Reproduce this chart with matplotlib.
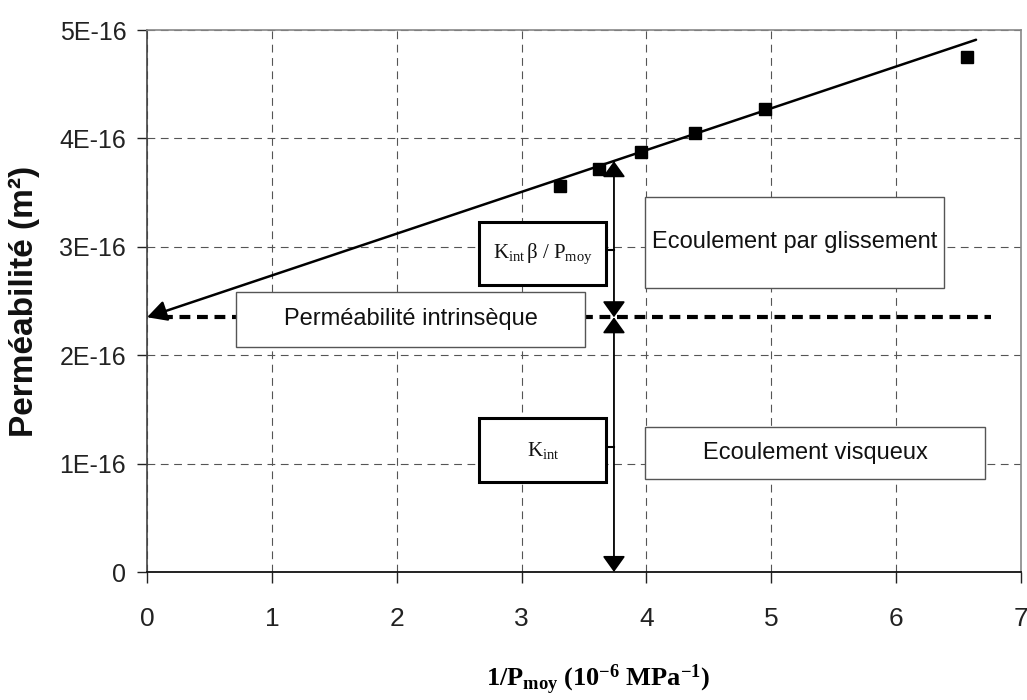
import matplotlib
matplotlib.use("Agg")
import matplotlib.pyplot as plt
from matplotlib.patches import Rectangle
from matplotlib.ticker import FuncFormatter

plt.rcParams['font.family'] = ['Liberation Sans', 'DejaVu Sans']
plt.rcParams['mathtext.fontset'] = 'custom'
plt.rcParams['mathtext.rm'] = 'Liberation Serif'
plt.rcParams['mathtext.it'] = 'Liberation Serif:italic'
plt.rcParams['mathtext.bf'] = 'Liberation Serif:bold'

# ---- data (x in 1e-6 MPa^-1, y in m^2) ----
inv_p = [3.31, 3.62, 3.96, 4.39, 4.95, 6.57]
perm = [3.56e-16, 3.72e-16, 3.87e-16, 4.05e-16, 4.27e-16, 4.75e-16]
fit_x = [0.0, 6.64]
fit_y = [2.35e-16, 4.91e-16]
k_int = 2.35e-16
x_arrow = 3.74
top_arrow = 3.79e-16
x_ticks = [0, 1, 2, 3, 4, 5, 6, 7]
y_ticks = [0, 1e-16, 2e-16, 3e-16, 4e-16, 5e-16]

fig = plt.figure(figsize=(10.27, 7.0), dpi=100)
ax = fig.add_axes([147/1027, 1-572/700, (1021-147)/1027, (572-30)/700])
ax.set_xlim(0, 7)
ax.set_ylim(0, 5e-16)
ax.set_xticks(x_ticks)
ax.set_yticks(y_ticks)
ax.yaxis.set_major_formatter(FuncFormatter(
    lambda v, p: '0' if abs(v) < 1e-20 else '%dE-16' % round(v / 1e-16)))

ax.grid(True, color='#555555', linestyle=(0, (7, 5)), linewidth=0.8)
for s in ['top', 'right']:
    ax.spines[s].set_color('#888888')
    ax.spines[s].set_linewidth(1.2)
ax.spines['left'].set_color('#444444')
ax.spines['left'].set_linewidth(1.2)
ax.spines['bottom'].set_color('#111111')
ax.spines['bottom'].set_linewidth(1.3)
ax.tick_params(axis='y', direction='out', length=7, width=1.0, pad=8,
               labelsize=18, colors='#222222')
ax.tick_params(axis='x', direction='out', length=8, width=1.0, pad=17,
               labelsize=19, colors='#222222')

# fit line with arrow head at x=0
ax.annotate('', xy=(fit_x[0], fit_y[0]), xytext=(fit_x[1], fit_y[1]),
            arrowprops=dict(arrowstyle='-|>,head_length=0.85,head_width=0.45',
                            color='black', lw=1.8, shrinkA=0, shrinkB=0,
                            mutation_scale=14), zorder=4)
# data markers
ax.plot(inv_p, perm, linestyle='none', marker='s', markersize=8.5,
        color='black', zorder=5)

# horizontal dashed intrinsic permeability line
ax.plot([0.12, 6.76], [k_int, k_int], color='black', lw=3,
        linestyle=(0, (2.6, 1.6)), zorder=3)

# vertical double arrows
for y_end in (top_arrow, 0):
    ax.annotate('', xy=(x_arrow, y_end), xytext=(x_arrow, k_int),
                arrowprops=dict(arrowstyle='<|-|>,head_length=0.7,head_width=0.5',
                                color='black', lw=1.3, shrinkA=0, shrinkB=0,
                                mutation_scale=14), zorder=4)

def box(x0, x1, y0, y1, text, lw, ec, fs):
    r = Rectangle((x0, y0), x1 - x0, y1 - y0, facecolor='white', edgecolor=ec,
                  lw=lw, zorder=6)
    ax.add_patch(r)
    ax.text((x0 + x1) / 2, (y0 + y1) / 2, text, ha='center', va='center',
            fontsize=fs, zorder=7, color='#111111')

box(0.71, 3.51, 2.08e-16, 2.58e-16, 'Perméabilité intrinsèque', 1.0, '#555555', 17)
box(3.99, 6.38, 2.62e-16, 3.46e-16, 'Ecoulement par glissement', 1.0, '#555555', 17)
box(3.99, 6.71, 0.86e-16, 1.34e-16, 'Ecoulement visqueux', 1.0, '#555555', 17)
box(2.66, 3.68, 2.65e-16, 3.23e-16, r'$\mathrm{K_{int}\,β\ /\ P_{moy}}$', 2.2, 'black', 15)
box(2.66, 3.68, 0.83e-16, 1.42e-16, r'$\mathrm{K_{int}}$', 2.2, 'black', 15)

# connectors
ax.plot([3.68, x_arrow], [2.97e-16, 2.97e-16], color='black', lw=1.5, zorder=5)
ax.plot([3.68, x_arrow], [1.15e-16, 1.15e-16], color='black', lw=1.5, zorder=5)

fig.text(24/1027, 1 - 301/700, 'Perméabilité (m²)', rotation=90,
         ha='center', va='center', fontsize=24, fontweight='bold', color='#111111')
fig.text(598/1027, 3/700, r'$\mathbf{1/P_{moy}\ (10^{-6}\ MPa^{-1})}$',
         ha='center', va='bottom', fontsize=19)

fig.savefig('out.png', dpi=100, facecolor='white')
